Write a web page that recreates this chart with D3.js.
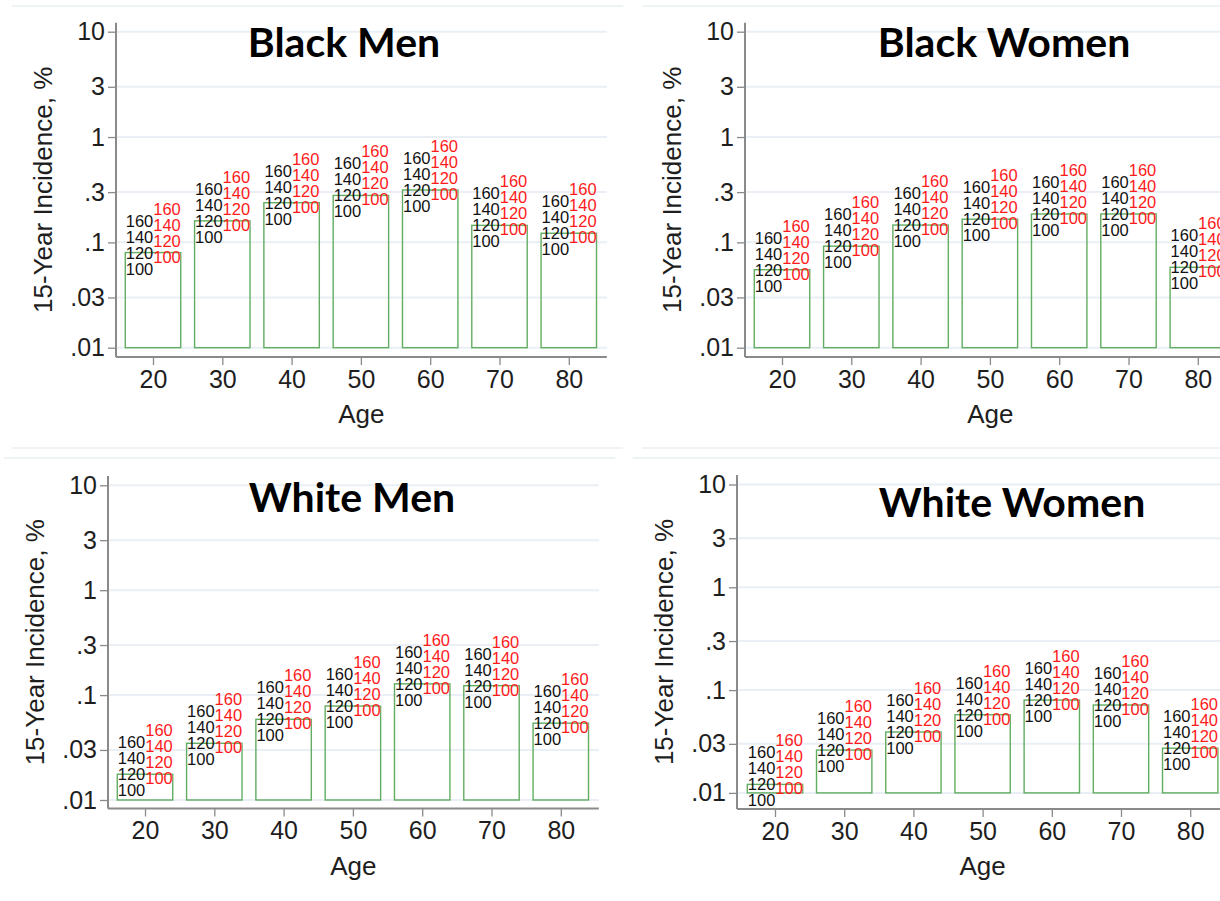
<!DOCTYPE html>
<html>
<head>
<meta charset="utf-8">
<script src="https://cdn.jsdelivr.net/npm/d3@7"></script>
<style>
  html, body { margin: 0; padding: 0; background: #fff; }
  svg { display: block; font-family: "Liberation Sans", Arial, sans-serif; }
</style>
</head>
<body>
<svg id="chart" width="1220" height="901"></svg>
<script>
// ages on the x axis
const ages = [20, 30, 40, 50, 60, 70, 80];

// 15-year incidence, %
const blackMen = [0.080, 0.160, 0.238, 0.279, 0.314, 0.145, 0.122];
const blackWomen = [0.055, 0.092, 0.146, 0.166, 0.186, 0.186, 0.058];
const whiteMen = [0.0176, 0.0347, 0.0588, 0.0787, 0.128, 0.123, 0.054];
const whiteWomen = [0.0121, 0.0261, 0.0391, 0.0576, 0.080, 0.0716, 0.0272];

const titles = ['Black Men', 'Black Women', 'White Men', 'White Women'];

const yTicks = [0.01, 0.03, 0.1, 0.3, 1, 3, 10];
const yTickLabels = ['.01', '.03', '.1', '.3', '1', '3', '10'];

// marker labels stacked over each bar
const blackLabels = ['160', '140', '120', '100'];
const redLabels = ['160', '140', '120', '100'];

const yTitle = '15-Year Incidence, %';
const xTitle = 'Age';

const colors = {
  grid: '#e9eff4',
  axis: '#8a8a8a',
  text: '#1e1e1e',
  bar: '#62ad62',
  red: '#ff1a1a',
  frame: '#eef3f3'
};

// layout of the four exported graphs
const panels = [
  { title: titles[0], values: blackMen, axisX: 116, x20: 153, step: 69.3, y10: 31.7, y01: 347.7, top: 22.7, base: 357, titleX: 344, titleY: 57, yTitleX: 43 },
  { title: titles[1], values: blackWomen, axisX: 745, x20: 782, step: 69.3, y10: 31.7, y01: 347.7, top: 22.7, base: 357, titleX: 1004, titleY: 57, yTitleX: 672 },
  { title: titles[2], values: whiteMen, axisX: 108, x20: 145, step: 69.3, y10: 485.3, y01: 800, top: 476, base: 808.5, titleX: 352, titleY: 512, yTitleX: 35 },
  { title: titles[3], values: whiteWomen, axisX: 737, x20: 775, step: 69.2, y10: 484.5, y01: 792.9, top: 475, base: 809, titleX: 1012, titleY: 517, yTitleX: 664 }
];

const svg = d3.select('#chart');

// faint borders of the pasted graphs
const frames = [
  [12, 6, 623, 6], [642, 6, 1220, 6],
  [12, 448, 623, 448], [4, 458, 615, 458],
  [642, 448, 1220, 448], [633, 458, 1220, 458]
];
svg.append('g').selectAll('line')
  .data(frames).enter().append('line')
  .attr('x1', d => d[0]).attr('y1', d => d[1])
  .attr('x2', d => d[2]).attr('y2', d => d[3])
  .attr('stroke', colors.frame)
  .attr('stroke-width', 2);

panels.forEach(p => {
  const g = svg.append('g');

  const x = d3.scaleLinear()
    .domain([20, 80])
    .range([p.x20, p.x20 + 6 * p.step]);
  const y = d3.scaleLog()
    .domain([0.01, 10])
    .range([p.y01, p.y10]);

  const right = x(80) + 38;

  // gridlines
  g.append('g').selectAll('line')
    .data(yTicks).enter().append('line')
    .attr('x1', p.axisX)
    .attr('x2', right)
    .attr('y1', d => y(d))
    .attr('y2', d => y(d))
    .attr('stroke', colors.grid)
    .attr('stroke-width', 2);

  // bars
  g.append('g').selectAll('rect')
    .data(p.values).enter().append('rect')
    .attr('x', (d, i) => x(ages[i] - 4))
    .attr('width', (d, i) => x(ages[i] + 4) - x(ages[i] - 4))
    .attr('y', d => y(d))
    .attr('height', d => y(0.01) - y(d))
    .attr('fill', 'none')
    .attr('stroke', colors.bar)
    .attr('stroke-width', 1.4);

  // y axis
  const yAxis = d3.axisLeft(y)
    .tickValues(yTicks)
    .tickFormat((d, i) => yTickLabels[i])
    .tickSize(8)
    .tickPadding(3);
  const ya = g.append('g')
    .attr('transform', `translate(${p.axisX},0)`)
    .call(yAxis);
  ya.select('.domain').remove();
  ya.selectAll('.tick line').attr('stroke', colors.axis).attr('stroke-width', 1.3);
  ya.selectAll('.tick text')
    .attr('fill', colors.text)
    .style('font-size', '25px')
    .style('font-family', '"Liberation Sans", Arial, sans-serif');
  g.append('line')
    .attr('x1', p.axisX).attr('x2', p.axisX)
    .attr('y1', p.top).attr('y2', p.base)
    .attr('stroke', colors.axis)
    .attr('stroke-width', 2);

  // x axis
  const xAxis = d3.axisBottom(x)
    .tickValues(ages)
    .tickSize(8)
    .tickPadding(5);
  const xa = g.append('g')
    .attr('transform', `translate(0,${p.base})`)
    .call(xAxis);
  xa.select('.domain').remove();
  xa.selectAll('.tick line').attr('stroke', colors.axis).attr('stroke-width', 1.3);
  xa.selectAll('.tick text')
    .attr('fill', colors.text)
    .style('font-size', '25px')
    .style('font-family', '"Liberation Sans", Arial, sans-serif');
  g.append('line')
    .attr('x1', p.axisX).attr('x2', right)
    .attr('y1', p.base).attr('y2', p.base)
    .attr('stroke', colors.axis)
    .attr('stroke-width', 2);

  // black marker labels, left of each bar
  blackLabels.forEach((lab, k) => {
    g.append('g').selectAll('text')
      .data(p.values).enter().append('text')
      .attr('x', (d, i) => x(ages[i] - 4) + 0.5)
      .attr('y', d => y(d) + (k - 2) * 16 + 6)
      .attr('fill', '#111')
      .style('font-size', '16.5px')
      .text(lab);
  });

  // red marker labels, right of the black ones
  redLabels.forEach((lab, k) => {
    g.append('g').selectAll('text')
      .data(p.values).enter().append('text')
      .attr('x', (d, i) => x(ages[i] - 4) + 28)
      .attr('y', d => y(d) + (k - 2) * 16 - 6)
      .attr('fill', colors.red)
      .style('font-size', '16.5px')
      .text(lab);
  });

  // axis titles
  g.append('text')
    .attr('transform', `translate(${p.yTitleX},${(p.top + p.base) / 2}) rotate(-90)`)
    .attr('text-anchor', 'middle')
    .attr('dominant-baseline', 'central')
    .attr('fill', colors.text)
    .style('font-size', '26px')
    .text(yTitle);

  g.append('text')
    .attr('x', (p.axisX + right) / 2)
    .attr('y', p.base + 66)
    .attr('text-anchor', 'middle')
    .attr('fill', colors.text)
    .style('font-size', '26px')
    .text(xTitle);

  // panel title
  g.append('text')
    .attr('x', p.titleX)
    .attr('y', p.titleY)
    .attr('text-anchor', 'middle')
    .attr('fill', '#000')
    .style('font-family', 'Lato, "Open Sans", sans-serif')
    .style('font-weight', 700)
    .style('font-size', '41px')
    .text(p.title);
});
</script>
</body>
</html>
